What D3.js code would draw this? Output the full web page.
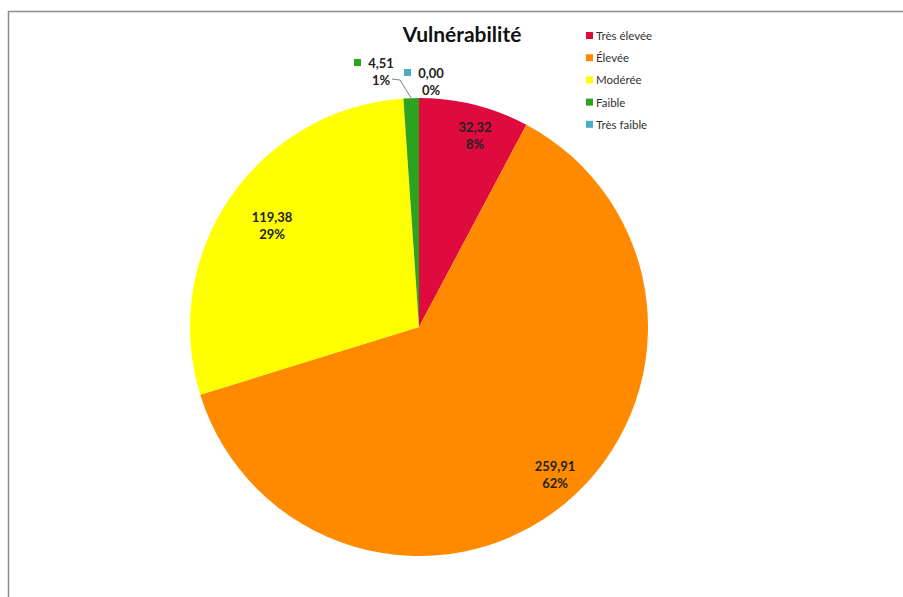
<!DOCTYPE html>
<html>
<head>
<meta charset="utf-8">
<script src="https://cdn.jsdelivr.net/npm/d3@7"></script>
<style>
  body { margin: 0; background: #fff; }
  svg { display: block; font-family: Lato, "Open Sans", sans-serif; }
</style>
</head>
<body>
<div id="chart"></div>
<script>
// Vulnérabilité pie chart

const categories = ['Très élevée', 'Élevée', 'Modérée', 'Faible', 'Très faible'];
const values = [32.32, 259.91, 119.38, 4.51, 0.00];
const colors = ['#DF0A3D', '#FF8A00', '#FFFF00', '#2CA21E', '#4BACC6'];

const width = 903, height = 597;
const cx = 419, cy = 327, radius = 229;

const svg = d3.select('#chart')
    .append('svg')
    .attr('width', width)
    .attr('height', height);

// frame of the chart area
svg.append('path')
    .attr('d', `M8.5,${height} V11.5 H${width}`)
    .attr('fill', 'none')
    .attr('stroke', '#8c8c8c')
    .attr('stroke-width', 1.5);

const total = d3.sum(values);
const fmt = v => d3.format('.2f')(v).replace('.', ',');
const pct = v => Math.round(v / total * 100) + '%';

const pie = d3.pie().sort(null).value(d => d)(values);
const arc = d3.arc().innerRadius(0).outerRadius(radius);

const g = svg.append('g').attr('transform', `translate(${cx},${cy})`);

g.selectAll('path.slice')
    .data(pie)
    .enter()
    .append('path')
    .attr('class', 'slice')
    .attr('d', arc)
    .attr('fill', (d, i) => colors[i]);

// data labels: offsets relative to centre
const labelPos = [[56, -195], [136, 144], [-147, -105], [-38, -259], [12, -249]];
const withKey = [false, false, false, true, true];

const labels = g.selectAll('g.lbl')
    .data(pie)
    .enter()
    .append('g')
    .attr('class', 'lbl')
    .attr('transform', (d, i) => `translate(${labelPos[i][0]},${labelPos[i][1]})`)
    .attr('font-size', 13)
    .attr('font-weight', 'bold')
    .attr('fill', '#222')
    .attr('text-anchor', 'middle');

labels.append('text')
    .attr('y', 0)
    .text((d, i) => fmt(values[i]));
labels.append('text')
    .attr('y', 17)
    .text((d, i) => pct(values[i]));

labels.filter((d, i) => withKey[i])
    .append('rect')
    .attr('x', -27)
    .attr('y', -9)
    .attr('width', 7)
    .attr('height', 7)
    .attr('fill', (d) => colors[d.index]);

// leader line for the small Faible slice
const faible = pie[3];
const mid = (faible.startAngle + faible.endAngle) / 2;
const edge = [Math.sin(mid) * radius, -Math.cos(mid) * radius];
g.append('polyline')
    .attr('points', `${-27},${-248} ${-19},${-247} ${edge[0]},${edge[1]}`)
    .attr('fill', 'none')
    .attr('stroke', '#7f7f7f')
    .attr('stroke-width', 1);

// title
svg.append('text')
    .attr('x', 462)
    .attr('y', 42)
    .attr('text-anchor', 'middle')
    .attr('font-size', 21)
    .attr('font-weight', 'bold')
    .attr('fill', '#111')
    .text('Vulnérabilité');

// legend
const legend = svg.append('g').attr('transform', 'translate(586,36)');
const row = legend.selectAll('g')
    .data(categories)
    .enter()
    .append('g')
    .attr('transform', (d, i) => `translate(0,${i * 22.2})`);
row.append('rect')
    .attr('x', 0)
    .attr('y', -4)
    .attr('width', 7)
    .attr('height', 7)
    .attr('fill', (d, i) => colors[i]);
row.append('text')
    .attr('x', 10)
    .attr('y', 4)
    .attr('font-size', 11.5)
    .attr('fill', '#333')
    .text(d => d);
</script>
</body>
</html>
